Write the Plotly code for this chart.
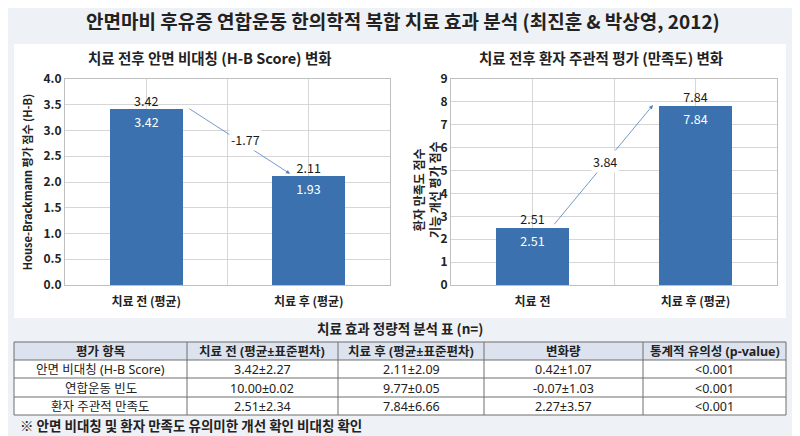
import plotly.graph_objects as go

# =============================================================================
# 데이터
# =============================================================================
MAIN_TITLE = "안면마비 후유증 연합운동 한의학적 복합 치료 효과 분석 (최진훈 & 박상영, 2012)"

hb_title = "치료 전후 안면 비대칭 (H-B Score) 변화"
hb_categories = ["치료 전 (평균)", "치료 후 (평균)"]
hb_values = [3.42, 2.11]
hb_inner_labels = ["3.42", "1.93"]
hb_change = "-1.77"
hb_ytitle = "House-Brackmann 평가 점수 (H-B)"

sat_title = "치료 전후 환자 주관적 평가 (만족도) 변화"
sat_categories = ["치료 전", "치료 후 (평균)"]
sat_values = [2.51, 7.84]
sat_inner_labels = ["2.51", "7.84"]
sat_change = "3.84"
sat_ytitle = "환자 만족도 점수<br>기능 개선 평가 점수"

table_title = "치료 효과 정량적 분석 표 (n=)"
table_header = ["평가 항목", "치료 전 (평균±표준편차)", "치료 후 (평균±표준편차)", "변화량", "통계적 유의성 (p-value)"]
col_items = ["안면 비대칭 (H-B Score)", "연합운동 빈도", "환자 주관적 만족도"]
col_before = ["3.42±2.27", "10.00±0.02", "2.51±2.34"]
col_after = ["2.11±2.09", "9.77±0.05", "7.84±6.66"]
col_change = ["0.42±1.07", "-0.07±1.03", "2.27±3.57"]
col_pvalue = ["<0.001", "<0.001", "<0.001"]
footnote = "※ 안면 비대칭 및 환자 만족도 유의미한 개선 확인 비대칭 확인"

# =============================================================================
# 스타일
# =============================================================================
FONT = "Noto Sans CJK KR"
TABLE_FONT = "Noto Sans, Noto Sans CJK KR"   # ± 기호를 좁은 글꼴로
BAR_COLOR = "#3A71AE"
ARROW_COLOR = "#4F80BD"
GRID = "#D6D6D6"
OFF = 8                      # 페이지 body 여백만큼 보정
W, H = 800 - OFF, 436 - OFF

# 표 격자 (픽셀)
TBL_X = [14, 187, 338, 484, 643, 786]
TBL_Y = [342, 360, 378, 397, 415]


def px_x(v):
    return (v - OFF) / W


def px_y(v):
    return 1 - (v - OFF) / H


fig = go.Figure()

# 막대 + 라벨
for cats, vals, inner, ax, ay in [
    (hb_categories, hb_values, hb_inner_labels, "x", "y"),
    (sat_categories, sat_values, sat_inner_labels, "x2", "y2"),
]:
    xs = list(range(len(cats)))
    fig.add_trace(go.Bar(
        x=xs, y=vals, width=0.45, marker=dict(color=BAR_COLOR, line=dict(width=0)),
        text=inner, textposition="inside", insidetextanchor="end",
        textfont=dict(color="white", size=12.5, family=FONT),
        constraintext="none", cliponaxis=False,
        xaxis=ax, yaxis=ay, showlegend=False, hoverinfo="skip",
    ))
    fig.add_trace(go.Scatter(
        x=xs, y=vals, mode="text", text=[f"{v:.2f}" for v in vals],
        textposition="top center",
        textfont=dict(color="#1a1a1a", size=12.5, family=FONT),
        xaxis=ax, yaxis=ay, showlegend=False, hoverinfo="skip", cliponaxis=False,
    ))

axis_common = dict(
    showline=True, linecolor="#BFBFBF", linewidth=1, mirror=True,
    gridcolor=GRID, gridwidth=1, zeroline=False, automargin=False,
    tickfont=dict(size=12, color="#222", family=FONT, weight="bold"),
)

left_dom = [px_x(65), px_x(390)]
right_dom = [px_x(451), px_x(777)]
plot_dom_y = [px_y(285), px_y(79)]

fig.update_layout(
    width=W, height=H, autosize=False,
    margin=dict(l=0, r=0, t=0, b=0, pad=0),
    paper_bgcolor="#EEF1F6", plot_bgcolor="white",
    font=dict(family=FONT, color="#222"),
    bargap=0,
    xaxis=dict(domain=left_dom, range=[-0.5, 1.5], tickvals=[0, 1], ticktext=hb_categories,
               ticks="", ticklabelstandoff=6,
               minor=dict(tick0=0.5, dtick=1, showgrid=True, gridcolor=GRID), **axis_common),
    yaxis=dict(domain=plot_dom_y, range=[0, 4], dtick=0.5, tickformat=".1f", ticks="",
               title=dict(text=hb_ytitle, font=dict(size=11, color="#222", family=FONT, weight="bold"), standoff=8),
               **axis_common),
    xaxis2=dict(domain=right_dom, range=[-0.5, 1.5], tickvals=[0, 1], ticktext=sat_categories, anchor="y2",
                ticks="", ticklabelstandoff=6,
                minor=dict(tick0=0.5, dtick=1, showgrid=True, gridcolor=GRID), **axis_common),
    yaxis2=dict(domain=plot_dom_y, range=[0, 9], dtick=1, anchor="x2", ticks="", **axis_common),
)

# 흰색 패널
fig.add_shape(type="rect", xref="paper", yref="paper",
              x0=px_x(14), x1=px_x(786), y0=px_y(318), y1=px_y(44),
              fillcolor="white", line=dict(width=0), layer="below")

# 화살표 (변화량)
fig.add_annotation(x=0.885, y=2.16, ax=0.257, ay=3.44, xref="x", yref="y", axref="x", ayref="y",
                   showarrow=True, arrowhead=2, arrowsize=1, arrowwidth=0.8, arrowcolor=ARROW_COLOR, text="")
fig.add_annotation(x=0.61, y=2.82, xref="x", yref="y", text=hb_change, showarrow=False,
                   bgcolor="white", font=dict(size=12.5, color="#1a1a1a"))
fig.add_annotation(x=0.739, y=7.86, ax=0.126, ay=2.59, xref="x2", yref="y2", axref="x2", ayref="y2",
                   showarrow=True, arrowhead=2, arrowsize=1, arrowwidth=0.8, arrowcolor=ARROW_COLOR, text="")
fig.add_annotation(x=0.445, y=5.40, xref="x2", yref="y2", text=sat_change, showarrow=False,
                   bgcolor="white", font=dict(size=12.5, color="#1a1a1a"))


def label(x, y, text, size, family=FONT, **kw):
    opts = dict(xref="paper", yref="paper", showarrow=False, xanchor="center", yanchor="middle",
                font=dict(size=size, color="#222", family=family))
    opts.update(kw)
    fig.add_annotation(x=px_x(x), y=px_y(y), text=text, **opts)


# 제목들
label(403, 20, f"<b>{MAIN_TITLE}</b>", 19)
label(210, 58, f"<b>{hb_title}</b>", 14.5)
label(601, 58, f"<b>{sat_title}</b>", 14.5)
label(426, 190, f"<b>{sat_ytitle}</b>", 12, textangle=-90)
label(400, 328, f"<b>{table_title}</b>", 13.5)
label(18, 425, f"<b>{footnote}</b>", 13.5, xanchor="left")

# 표 (셀 배경, 격자선, 텍스트)
fig.add_shape(type="rect", xref="paper", yref="paper",
              x0=px_x(TBL_X[0]), x1=px_x(TBL_X[-1]), y0=px_y(TBL_Y[-1]), y1=px_y(TBL_Y[0]),
              fillcolor="white", line=dict(width=0), layer="below")
fig.add_shape(type="rect", xref="paper", yref="paper",
              x0=px_x(TBL_X[0]), x1=px_x(TBL_X[-1]), y0=px_y(TBL_Y[1]), y1=px_y(TBL_Y[0]),
              fillcolor="#DCE3EF", line=dict(width=0), layer="below")
for xv in TBL_X:
    fig.add_shape(type="line", xref="paper", yref="paper",
                  x0=px_x(xv), x1=px_x(xv), y0=px_y(TBL_Y[-1]), y1=px_y(TBL_Y[0]),
                  line=dict(color="#6E6E6E", width=1))
for yv in TBL_Y:
    fig.add_shape(type="line", xref="paper", yref="paper",
                  x0=px_x(TBL_X[0]), x1=px_x(TBL_X[-1]), y0=px_y(yv), y1=px_y(yv),
                  line=dict(color="#6E6E6E", width=1))

columns = [col_items, col_before, col_after, col_change, col_pvalue]
for c, head in enumerate(table_header):
    cx = (TBL_X[c] + TBL_X[c + 1]) / 2
    label(cx, (TBL_Y[0] + TBL_Y[1]) / 2 + 0.5, f"<b>{head}</b>", 12.5, family=TABLE_FONT)
    for r, val in enumerate(columns[c]):
        label(cx, (TBL_Y[r + 1] + TBL_Y[r + 2]) / 2 + 0.5, val, 12.5, family=TABLE_FONT)

fig.write_html("out.html")
